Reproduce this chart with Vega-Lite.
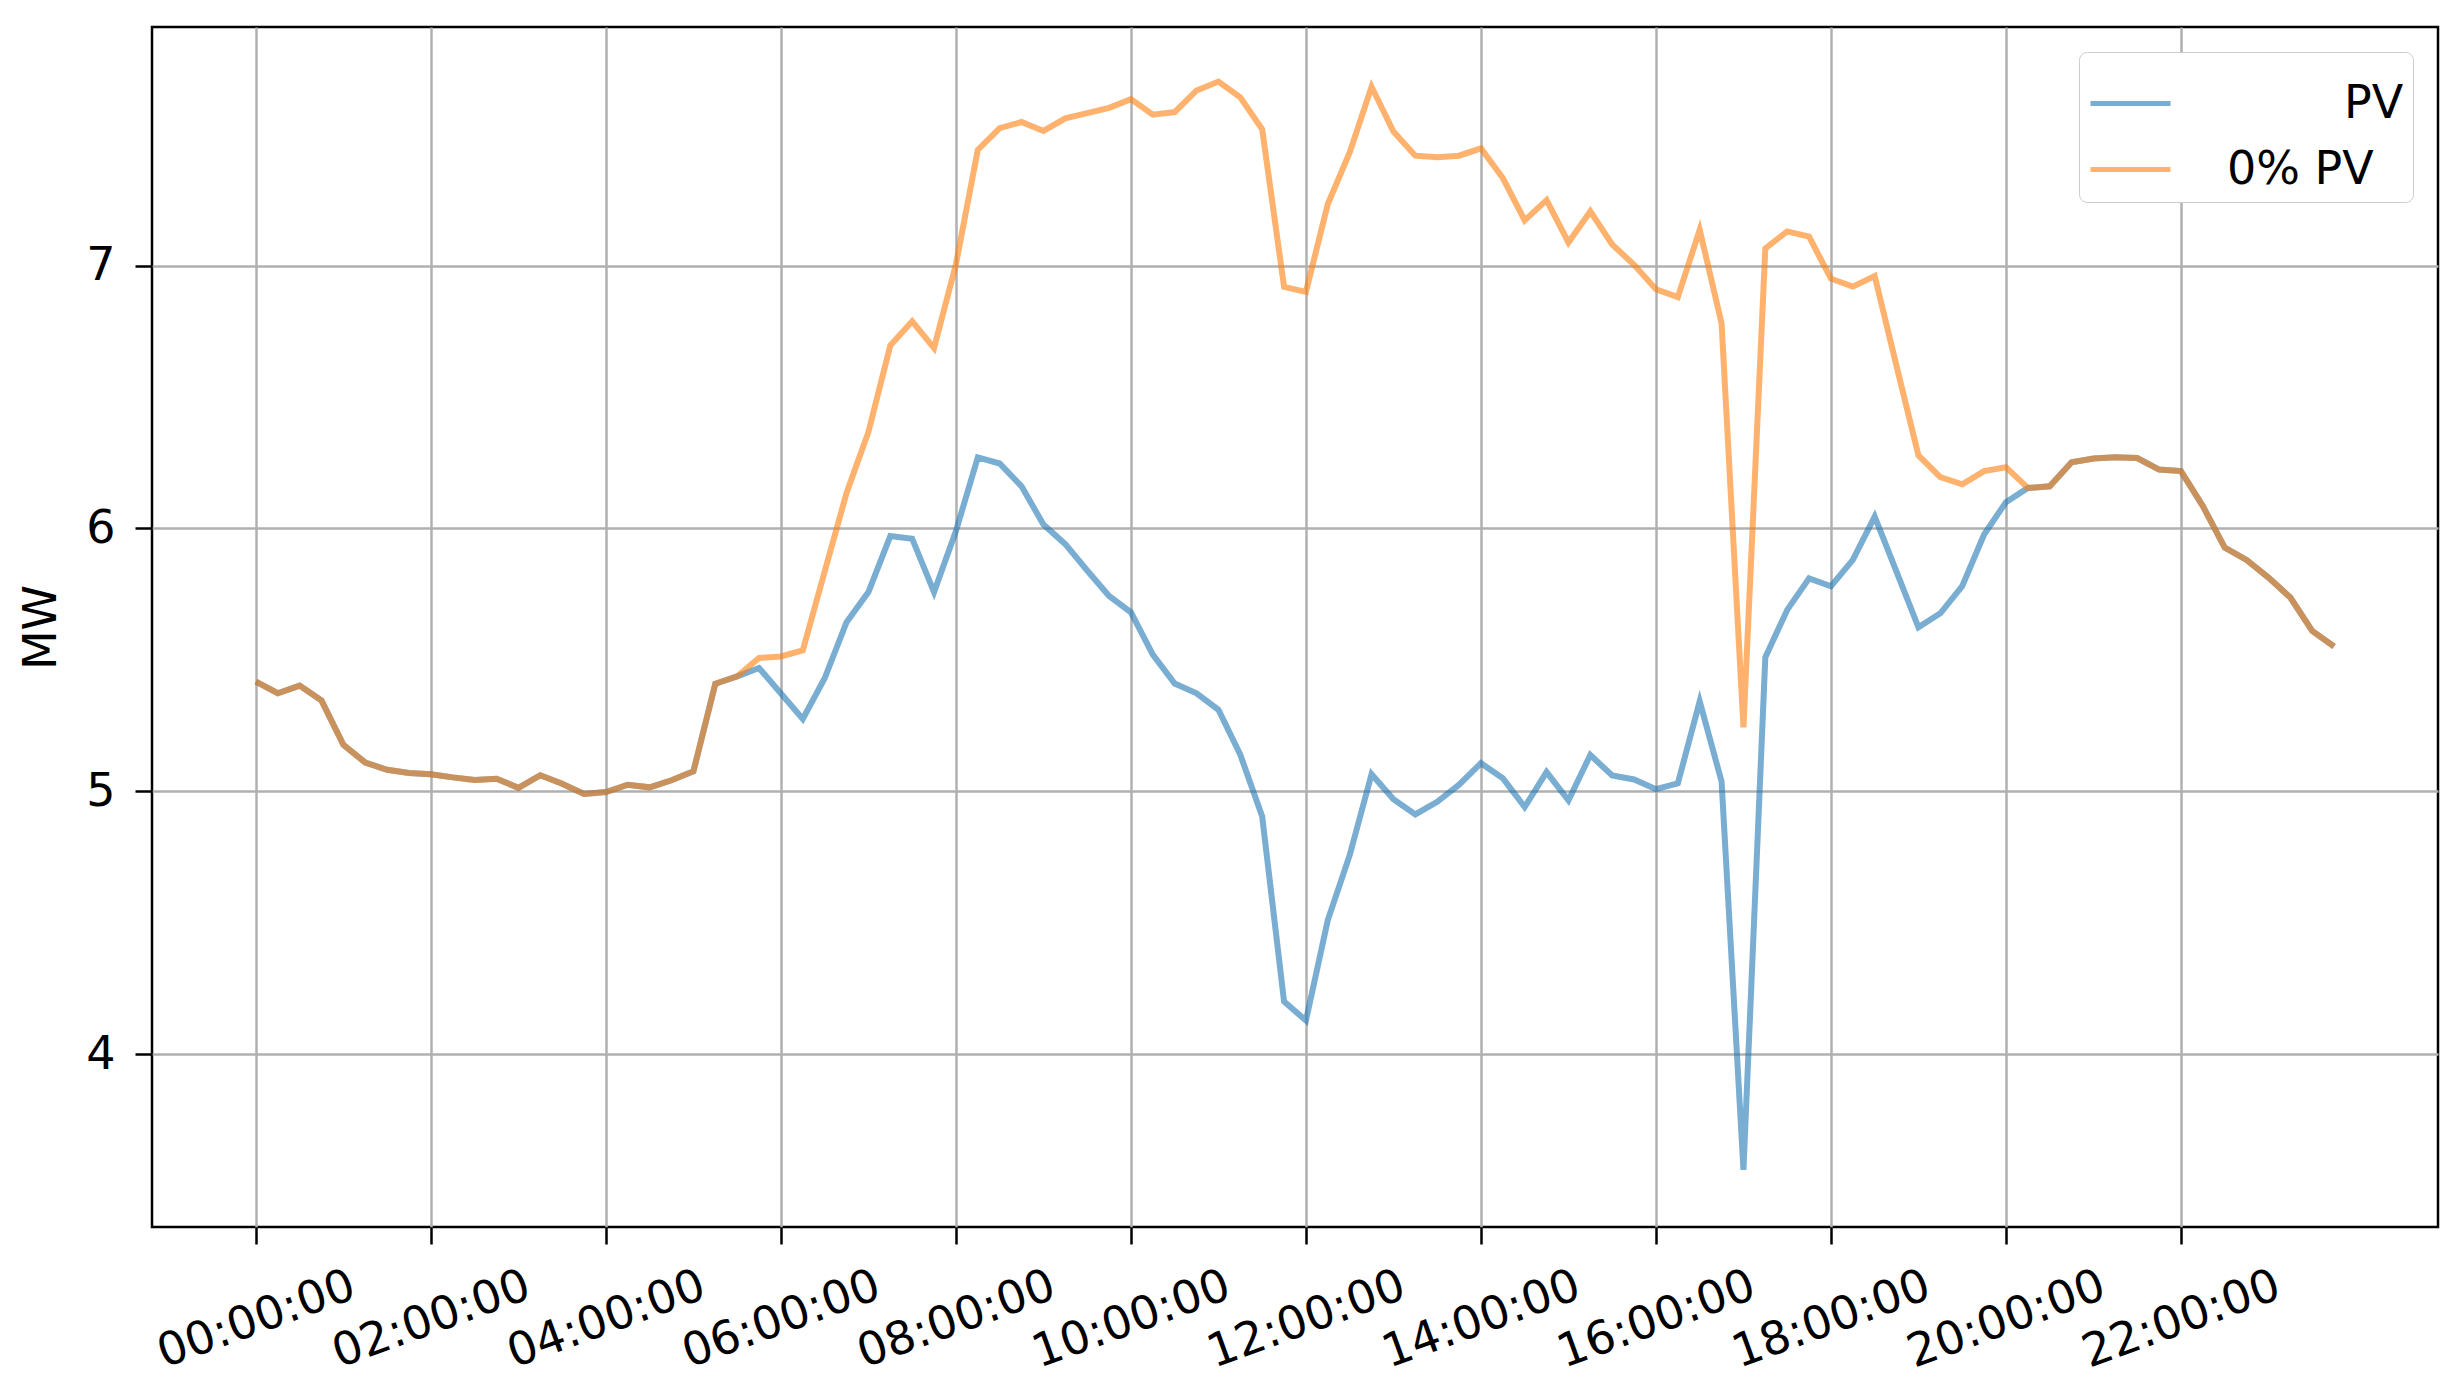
{
  "$schema": "https://vega.github.io/schema/vega-lite/v6.json",
  "autosize": "none",
  "width": 2286,
  "height": 1200,
  "padding": {"left": 152, "top": 27, "right": 25, "bottom": 171},
  "background": "white",
  "config": {
    "view": {"stroke": "black", "strokeWidth": 2.5},
    "font": "DejaVu Sans"
  },
  "datasets": {
    "series": [
      {"s":"PV","h":0,"v":5.417},{"s":"PV","h":0.25,"v":5.373},{"s":"PV","h":0.5,"v":5.402},{"s":"PV","h":0.75,"v":5.345},
      {"s":"PV","h":1,"v":5.177},{"s":"PV","h":1.25,"v":5.109},{"s":"PV","h":1.5,"v":5.082},{"s":"PV","h":1.75,"v":5.070},
      {"s":"PV","h":2,"v":5.065},{"s":"PV","h":2.25,"v":5.053},{"s":"PV","h":2.5,"v":5.043},{"s":"PV","h":2.75,"v":5.048},
      {"s":"PV","h":3,"v":5.013},{"s":"PV","h":3.25,"v":5.061},{"s":"PV","h":3.5,"v":5.029},{"s":"PV","h":3.75,"v":4.990},
      {"s":"PV","h":4,"v":4.997},{"s":"PV","h":4.25,"v":5.025},{"s":"PV","h":4.5,"v":5.015},{"s":"PV","h":4.75,"v":5.042},
      {"s":"PV","h":5,"v":5.076},{"s":"PV","h":5.25,"v":5.409},{"s":"PV","h":5.5,"v":5.437},{"s":"PV","h":5.75,"v":5.469},
      {"s":"PV","h":6,"v":5.372},{"s":"PV","h":6.25,"v":5.275},{"s":"PV","h":6.5,"v":5.43},{"s":"PV","h":6.75,"v":5.643},
      {"s":"PV","h":7,"v":5.758},{"s":"PV","h":7.25,"v":5.971},{"s":"PV","h":7.5,"v":5.961},{"s":"PV","h":7.75,"v":5.758},
      {"s":"PV","h":8,"v":5.99},{"s":"PV","h":8.25,"v":6.27},{"s":"PV","h":8.5,"v":6.247},{"s":"PV","h":8.75,"v":6.16},
      {"s":"PV","h":9,"v":6.015},{"s":"PV","h":9.25,"v":5.94},{"s":"PV","h":9.5,"v":5.84},{"s":"PV","h":9.75,"v":5.743},
      {"s":"PV","h":10,"v":5.681},{"s":"PV","h":10.25,"v":5.52},{"s":"PV","h":10.5,"v":5.41},{"s":"PV","h":10.75,"v":5.373},
      {"s":"PV","h":11,"v":5.31},{"s":"PV","h":11.25,"v":5.139},{"s":"PV","h":11.5,"v":4.904},{"s":"PV","h":11.75,"v":4.20},
      {"s":"PV","h":12,"v":4.128},{"s":"PV","h":12.25,"v":4.51},{"s":"PV","h":12.5,"v":4.757},{"s":"PV","h":12.75,"v":5.065},
      {"s":"PV","h":13,"v":4.97},{"s":"PV","h":13.25,"v":4.912},{"s":"PV","h":13.5,"v":4.96},{"s":"PV","h":13.75,"v":5.025},
      {"s":"PV","h":14,"v":5.107},{"s":"PV","h":14.25,"v":5.05},{"s":"PV","h":14.5,"v":4.94},{"s":"PV","h":14.75,"v":5.073},
      {"s":"PV","h":15,"v":4.966},{"s":"PV","h":15.25,"v":5.138},{"s":"PV","h":15.5,"v":5.06},{"s":"PV","h":15.75,"v":5.045},
      {"s":"PV","h":16,"v":5.008},{"s":"PV","h":16.25,"v":5.03},{"s":"PV","h":16.5,"v":5.342},{"s":"PV","h":16.75,"v":5.037},
      {"s":"PV","h":17,"v":3.56},{"s":"PV","h":17.25,"v":5.51},{"s":"PV","h":17.5,"v":5.69},{"s":"PV","h":17.75,"v":5.81},
      {"s":"PV","h":18,"v":5.78},{"s":"PV","h":18.25,"v":5.88},{"s":"PV","h":18.5,"v":6.045},{"s":"PV","h":18.75,"v":5.835},
      {"s":"PV","h":19,"v":5.624},{"s":"PV","h":19.25,"v":5.677},{"s":"PV","h":19.5,"v":5.78},{"s":"PV","h":19.75,"v":5.977},
      {"s":"PV","h":20,"v":6.10},{"s":"PV","h":20.25,"v":6.154},{"s":"PV","h":20.5,"v":6.16},{"s":"PV","h":20.75,"v":6.252},
      {"s":"PV","h":21,"v":6.266},{"s":"PV","h":21.25,"v":6.271},{"s":"PV","h":21.5,"v":6.268},{"s":"PV","h":21.75,"v":6.224},
      {"s":"PV","h":22,"v":6.218},{"s":"PV","h":22.25,"v":6.085},{"s":"PV","h":22.5,"v":5.927},{"s":"PV","h":22.75,"v":5.88},
      {"s":"PV","h":23,"v":5.813},{"s":"PV","h":23.25,"v":5.737},{"s":"PV","h":23.5,"v":5.61},{"s":"PV","h":23.75,"v":5.551},

      {"s":"0% PV","h":0,"v":5.417},{"s":"0% PV","h":0.25,"v":5.373},{"s":"0% PV","h":0.5,"v":5.402},{"s":"0% PV","h":0.75,"v":5.345},
      {"s":"0% PV","h":1,"v":5.177},{"s":"0% PV","h":1.25,"v":5.109},{"s":"0% PV","h":1.5,"v":5.082},{"s":"0% PV","h":1.75,"v":5.070},
      {"s":"0% PV","h":2,"v":5.065},{"s":"0% PV","h":2.25,"v":5.053},{"s":"0% PV","h":2.5,"v":5.043},{"s":"0% PV","h":2.75,"v":5.048},
      {"s":"0% PV","h":3,"v":5.013},{"s":"0% PV","h":3.25,"v":5.061},{"s":"0% PV","h":3.5,"v":5.029},{"s":"0% PV","h":3.75,"v":4.990},
      {"s":"0% PV","h":4,"v":4.997},{"s":"0% PV","h":4.25,"v":5.025},{"s":"0% PV","h":4.5,"v":5.015},{"s":"0% PV","h":4.75,"v":5.042},
      {"s":"0% PV","h":5,"v":5.076},{"s":"0% PV","h":5.25,"v":5.409},{"s":"0% PV","h":5.5,"v":5.437},{"s":"0% PV","h":5.75,"v":5.507},
      {"s":"0% PV","h":6,"v":5.513},{"s":"0% PV","h":6.25,"v":5.536},{"s":"0% PV","h":6.5,"v":5.836},{"s":"0% PV","h":6.75,"v":6.135},
      {"s":"0% PV","h":7,"v":6.367},{"s":"0% PV","h":7.25,"v":6.696},{"s":"0% PV","h":7.5,"v":6.788},{"s":"0% PV","h":7.75,"v":6.686},
      {"s":"0% PV","h":8,"v":7.005},{"s":"0% PV","h":8.25,"v":7.44},{"s":"0% PV","h":8.5,"v":7.523},{"s":"0% PV","h":8.75,"v":7.546},
      {"s":"0% PV","h":9,"v":7.512},{"s":"0% PV","h":9.25,"v":7.56},{"s":"0% PV","h":9.5,"v":7.58},{"s":"0% PV","h":9.75,"v":7.60},
      {"s":"0% PV","h":10,"v":7.633},{"s":"0% PV","h":10.25,"v":7.574},{"s":"0% PV","h":10.5,"v":7.584},{"s":"0% PV","h":10.75,"v":7.666},
      {"s":"0% PV","h":11,"v":7.70},{"s":"0% PV","h":11.25,"v":7.64},{"s":"0% PV","h":11.5,"v":7.518},{"s":"0% PV","h":11.75,"v":6.919},
      {"s":"0% PV","h":12,"v":6.90},{"s":"0% PV","h":12.25,"v":7.234},{"s":"0% PV","h":12.5,"v":7.43},{"s":"0% PV","h":12.75,"v":7.68},
      {"s":"0% PV","h":13,"v":7.51},{"s":"0% PV","h":13.25,"v":7.418},{"s":"0% PV","h":13.5,"v":7.412},{"s":"0% PV","h":13.75,"v":7.418},
      {"s":"0% PV","h":14,"v":7.446},{"s":"0% PV","h":14.25,"v":7.333},{"s":"0% PV","h":14.5,"v":7.172},{"s":"0% PV","h":14.75,"v":7.249},
      {"s":"0% PV","h":15,"v":7.088},{"s":"0% PV","h":15.25,"v":7.206},{"s":"0% PV","h":15.5,"v":7.08},{"s":"0% PV","h":15.75,"v":7.003},
      {"s":"0% PV","h":16,"v":6.91},{"s":"0% PV","h":16.25,"v":6.88},{"s":"0% PV","h":16.5,"v":7.136},{"s":"0% PV","h":16.75,"v":6.78},
      {"s":"0% PV","h":17,"v":5.243},{"s":"0% PV","h":17.25,"v":7.065},{"s":"0% PV","h":17.5,"v":7.13},{"s":"0% PV","h":17.75,"v":7.11},
      {"s":"0% PV","h":18,"v":6.95},{"s":"0% PV","h":18.25,"v":6.92},{"s":"0% PV","h":18.5,"v":6.96},{"s":"0% PV","h":18.75,"v":6.617},
      {"s":"0% PV","h":19,"v":6.278},{"s":"0% PV","h":19.25,"v":6.195},{"s":"0% PV","h":19.5,"v":6.168},{"s":"0% PV","h":19.75,"v":6.218},
      {"s":"0% PV","h":20,"v":6.233},{"s":"0% PV","h":20.25,"v":6.154},{"s":"0% PV","h":20.5,"v":6.16},{"s":"0% PV","h":20.75,"v":6.252},
      {"s":"0% PV","h":21,"v":6.266},{"s":"0% PV","h":21.25,"v":6.271},{"s":"0% PV","h":21.5,"v":6.268},{"s":"0% PV","h":21.75,"v":6.224},
      {"s":"0% PV","h":22,"v":6.218},{"s":"0% PV","h":22.25,"v":6.085},{"s":"0% PV","h":22.5,"v":5.927},{"s":"0% PV","h":22.75,"v":5.88},
      {"s":"0% PV","h":23,"v":5.813},{"s":"0% PV","h":23.25,"v":5.737},{"s":"0% PV","h":23.5,"v":5.61},{"s":"0% PV","h":23.75,"v":5.551}
    ]
  },
  "data": {"name": "series"},
  "mark": {"type": "line", "strokeWidth": 6, "opacity": 0.6, "clip": true},
  "encoding": {
    "x": {
      "field": "h",
      "type": "quantitative",
      "scale": {"domain": [-1.1875, 24.9375], "nice": false, "zero": false},
      "axis": {
        "title": null,
        "values": [0, 2, 4, 6, 8, 10, 12, 14, 16, 18, 20, 22],
        "labelExpr": "(datum.value < 10 ? '0' : '') + datum.value + ':00:00'",
        "labelAngle": -20,
        "labelAlign": "center",
        "labelBaseline": "middle",
        "labelPadding": 75,
        "labelFontSize": 46,
        "labelFont": "DejaVu Sans",
        "labelColor": "black",
        "labelLimit": 0,
        "tickSize": 17,
        "tickWidth": 2.5,
        "tickColor": "black",
        "domain": false,
        "grid": true,
        "gridColor": "#b0b0b0",
        "gridWidth": 2.5,
        "labelOverlap": false,
        "labelFlush": false
      }
    },
    "y": {
      "field": "v",
      "type": "quantitative",
      "scale": {"domain": [3.3425, 7.9075], "nice": false, "zero": false},
      "axis": {
        "title": "MW",
        "titleFontSize": 46,
        "titleFont": "DejaVu Sans",
        "titleFontWeight": "normal",
        "titleColor": "black",
        "titlePadding": 20,
        "values": [4, 5, 6, 7],
        "labelFontSize": 46,
        "labelFont": "DejaVu Sans",
        "labelColor": "black",
        "labelPadding": 20,
        "tickSize": 17,
        "tickWidth": 2.5,
        "tickColor": "black",
        "domain": false,
        "grid": true,
        "gridColor": "#b0b0b0",
        "gridWidth": 2.5
      }
    },
    "color": {
      "field": "s",
      "type": "nominal",
      "sort": ["PV", "0% PV"],
      "scale": {"domain": ["PV", "0% PV"], "range": ["#1f77b4", "#ff7f0e"]},
      "legend": {
        "title": null,
        "orient": "top-right",
        "offset": 25,
        "padding": 9,
        "strokeColor": "#cccccc",
        "cornerRadius": 8,
        "fillColor": "white",
        "symbolType": "stroke",
        "symbolSize": 6400,
        "symbolStrokeWidth": 5,
        "symbolOpacity": 0.6,
        "labelFontSize": 46,
        "labelFont": "DejaVu Sans",
        "labelColor": "black",
        "labelOffset": 54,
        "labelLimit": 0,
        "rowPadding": 0,
        "labelExpr": "datum.label == 'PV' ? '\u200b\u00a0\u00a0\u00a0\u00a0\u00a0\u00a0\u00a0\u00a0PV' : datum.label"
      }
    }
  }
}
